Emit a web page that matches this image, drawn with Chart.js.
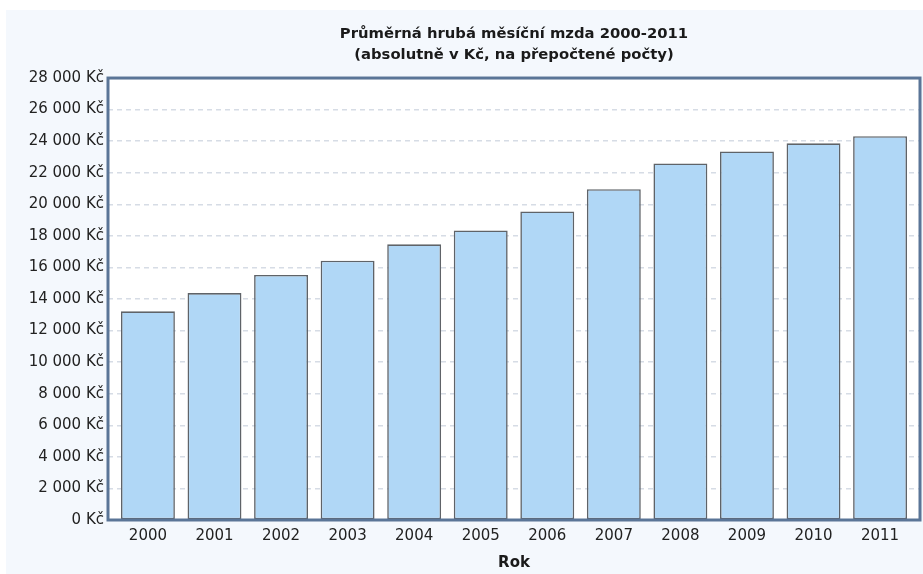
<!DOCTYPE html>
<html>
<head>
<meta charset="utf-8">
<script src="https://cdn.jsdelivr.net/npm/chart.js@4.4.1/dist/chart.umd.min.js"></script>
<style>
html, body { margin: 0; padding: 0; background: #ffffff; }
#obal { position: relative; width: 923px; height: 574px; }
</style>
</head>
<body>
<div id="obal"><canvas id="graf_mzdy" width="923" height="574"></canvas></div>
<script>
// data
const roky = ['2000', '2001', '2002', '2003', '2004', '2005', '2006', '2007', '2008', '2009', '2010', '2011'];
const mzdy = [13219, 14378, 15524, 16430, 17466, 18344, 19546, 20957, 22592, 23344, 23864, 24319];
const nadpis = ['Průměrná hrubá měsíční mzda 2000-2011', '(absolutně v Kč, na přepočtené počty)'];
const osaX = 'Rok';

function formatKc(v) {
	return String(v).replace(/\B(?=(\d{3})+(?!\d))/g, ' ') + ' Kč';
}

// sloupce na linearni ose x (index roku), aby mezery na krajich byly cele
const body = mzdy.map(function (v, i) { return { x: i, y: v }; });

// pozadi: bily okraj a svetle modry panel, bila plocha grafu
const pozadi = {
	id: 'pozadi',
	beforeDraw(chart) {
		const ctx = chart.ctx;
		const a = chart.chartArea;
		ctx.save();
		ctx.fillStyle = '#ffffff';
		ctx.fillRect(0, 0, chart.width, chart.height);
		ctx.fillStyle = '#f4f8fd';
		ctx.fillRect(6, 10, chart.width - 6, chart.height - 10);
		ctx.fillStyle = '#ffffff';
		ctx.fillRect(a.left, a.top, a.right - a.left, a.bottom - a.top);
		ctx.restore();
	}
};

// ramecek kolem plochy grafu
const ramecek = {
	id: 'ramecek',
	afterDatasetsDraw(chart) {
		const ctx = chart.ctx;
		const a = chart.chartArea;
		ctx.save();
		ctx.strokeStyle = '#5a7597';
		ctx.lineWidth = 3;
		ctx.strokeRect(a.left, a.top, a.right - a.left, a.bottom - a.top);
		ctx.restore();
	}
};

new Chart(document.getElementById('graf_mzdy'), {
	type: 'bar',
	data: {
		datasets: [{
			data: body,
			backgroundColor: '#b0d7f6',
			borderColor: '#5f6368',
			borderWidth: 1.6,
			borderSkipped: false,
			barPercentage: 1,
			categoryPercentage: 0.81
		}]
	},
	options: {
		responsive: false,
		animation: false,
		devicePixelRatio: 1,
		layout: { padding: { left: 6, right: 3, top: 10, bottom: 2 } },
		plugins: {
			legend: { display: false },
			tooltip: { enabled: false },
			title: {
				display: true,
				fullSize: false,
				text: nadpis,
				color: '#1a1a1a',
				font: { family: 'DejaVu Sans', size: 14.8, weight: 'bold', lineHeight: 1.42 },
				padding: { top: 14, bottom: 12 }
			}
		},
		scales: {
			x: {
				type: 'linear',
				offset: false,
				min: -0.6,
				max: 11.6,
				afterBuildTicks(scale) {
					scale.ticks = roky.map(function (r, i) { return { value: i }; });
				},
				grid: { display: false, drawTicks: false },
				border: { display: false },
				ticks: {
					color: '#222222',
					font: { family: 'DejaVu Sans', size: 15 },
					padding: 7,
					maxRotation: 0,
					autoSkip: false,
					callback: function (v) { return roky[v]; }
				},
				title: {
					display: true,
					text: osaX,
					color: '#1a1a1a',
					font: { family: 'DejaVu Sans', size: 15, weight: 'bold' },
					padding: { top: 2, bottom: 0 }
				}
			},
			y: {
				min: 0,
				max: 28000,
				afterFit(scale) { scale.width = 102; },
				border: { display: false, dash: [5, 4] },
				grid: {
					color: function (c) {
						return (c.tick.value === 0 || c.tick.value === 28000) ? 'rgba(0,0,0,0)' : '#d6dce5';
					},
					lineWidth: 1.5,
					drawTicks: false
				},
				ticks: {
					stepSize: 2000,
					color: '#222222',
					font: { family: 'DejaVu Sans', size: 15 },
					padding: 4,
					callback: function (v) { return formatKc(v); }
				}
			}
		}
	},
	plugins: [pozadi, ramecek]
});
</script>
</body>
</html>
